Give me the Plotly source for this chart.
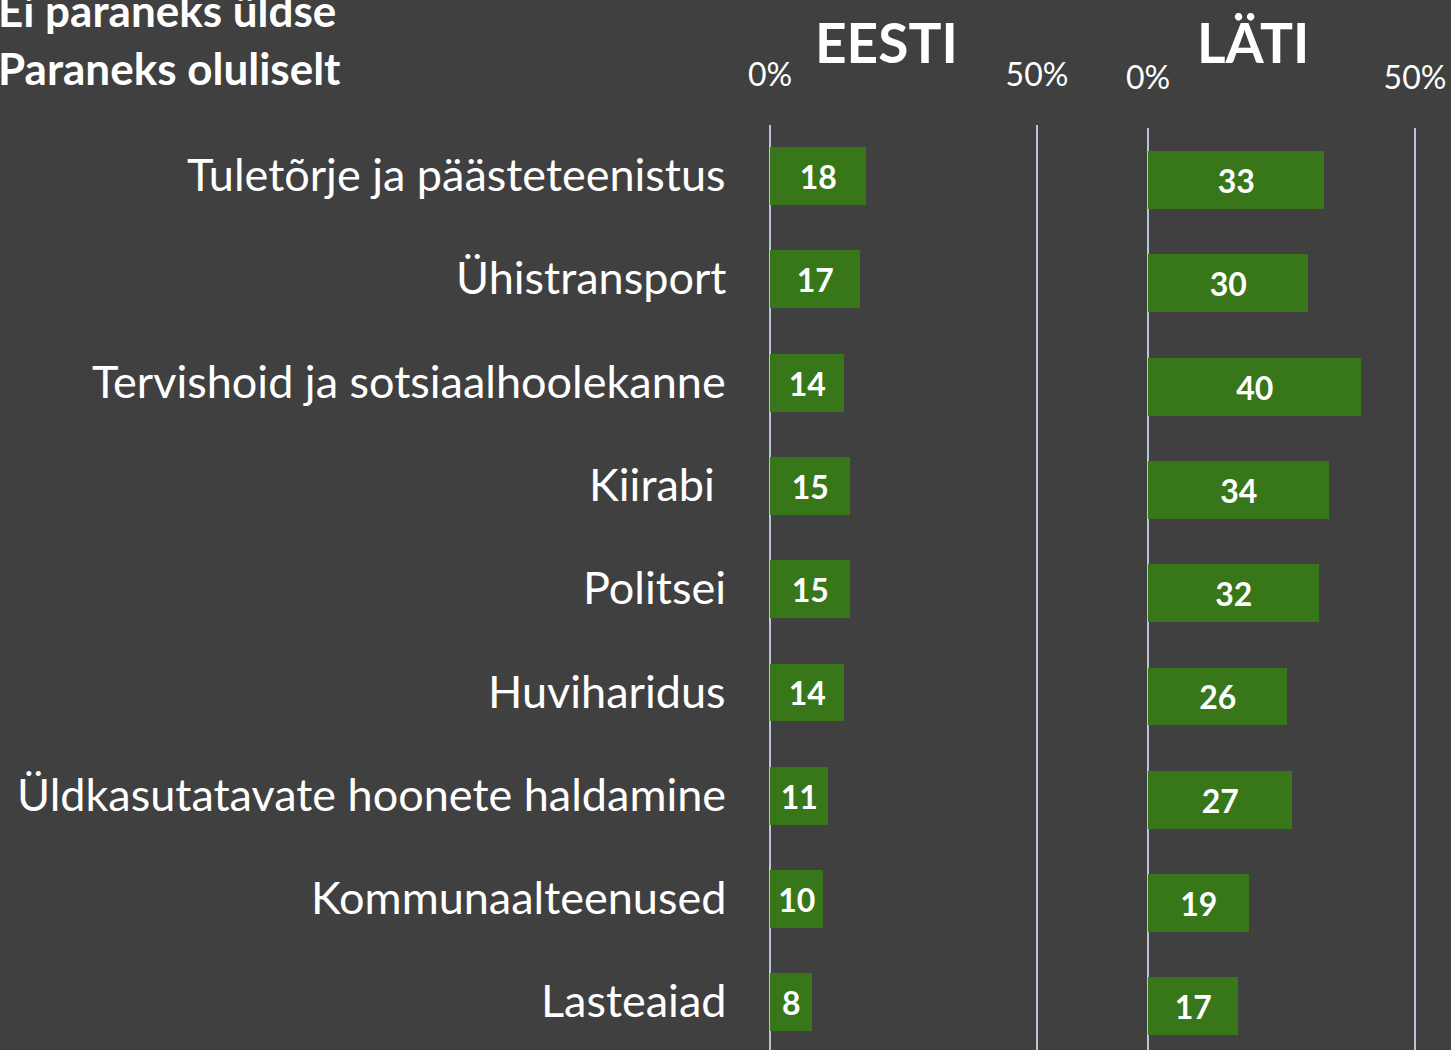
import plotly.graph_objects as go

W, H = 1451, 1050

categories = [
    "Tuletõrje ja päästeteenistus",
    "Ühistransport",
    "Tervishoid ja sotsiaalhoolekanne",
    "Kiirabi\u00a0",
    "Politsei",
    "Huviharidus",
    "Üldkasutatavate hoonete haldamine",
    "Kommunaalteenused",
    "Lasteaiad",
]
eesti_values = [18, 17, 14, 15, 15, 14, 11, 10, 8]
lati_values = [33, 30, 40, 34, 32, 26, 27, 19, 17]
panel_titles = ["EESTI", "LÄTI"]
legend_lines = ["Ei paraneks üldse", "Paraneks oluliselt"]
tick_vals = [0, 50]
tick_text = ["0%", "50%"]

BG = "#404040"
BAR = "#38761a"
GRID = "#b9c4d6"
FONT = "Lato"

def px_x(p):
    return p / W

def px_y(p):
    return 1 - p / H

fig = go.Figure()
for vals, xa, ya in [(eesti_values, "x", "y"), (lati_values, "x2", "y2")]:
    fig.add_trace(go.Bar(
        x=vals, y=categories, orientation="h", xaxis=xa, yaxis=ya,
        marker=dict(color=BAR, line=dict(width=0)), width=0.56,
        text=[str(v) for v in vals], textposition="inside",
        insidetextanchor="middle", constraintext="none",
        textfont=dict(family=FONT, size=32, color="white", weight="bold"),
        showlegend=False, hoverinfo="skip",
    ))

spacing = 103.3
e_top, e_c0 = 125, 176
l_top, l_c0 = 128, 180
pad = 0.5
ppu = 267 / 50.0  # pixels per percent

xcommon = dict(range=[-pad, 50 + pad], tickvals=tick_vals, ticktext=tick_text, side="top",
               showgrid=True, gridcolor=GRID, gridwidth=2, zeroline=False,
               showline=False, ticks="", ticklabelstandoff=32,
               tickfont=dict(family=FONT, size=32, color="white"), fixedrange=True)

fig.update_layout(
    width=W, height=H,
    margin=dict(l=0, r=0, t=0, b=0, autoexpand=False),
    paper_bgcolor=BG, plot_bgcolor=BG,
    bargap=0,
    xaxis=dict(domain=[px_x(770 - pad * ppu), px_x(1037 + pad * ppu)], anchor="y", **xcommon),
    xaxis2=dict(domain=[px_x(1148 - pad * ppu), px_x(1415 + pad * ppu)], anchor="y2", **xcommon),
    yaxis=dict(domain=[0, px_y(e_top)], anchor="x", type="category",
               categoryorder="array", categoryarray=categories,
               range=[(H - e_c0) / spacing, -(e_c0 - e_top) / spacing],
               showticklabels=False, showgrid=False, zeroline=False, showline=False),
    yaxis2=dict(domain=[0, px_y(l_top)], anchor="x2", type="category",
                categoryorder="array", categoryarray=categories,
                range=[(H - l_c0) / spacing, -(l_c0 - l_top) / spacing],
                showticklabels=False, showgrid=False, zeroline=False, showline=False),
)

annotations = []
for c in categories:
    annotations.append(dict(
        text=c, xref="paper", yref="y", x=px_x(728), y=c, xanchor="right",
        yanchor="middle", yshift=2, showarrow=False,
        font=dict(family=FONT, size=45, color="white"),
    ))
for t, xc in zip(panel_titles, [886, 1253]):
    annotations.append(dict(
        text=t, xref="paper", yref="paper", x=px_x(xc), y=px_y(42),
        xanchor="center", yanchor="middle", showarrow=False,
        font=dict(family=FONT, size=55, color="white", weight="bold"),
    ))
for t, yc in zip(legend_lines, [10, 68]):
    annotations.append(dict(
        text=t, xref="paper", yref="paper", x=px_x(-4), y=px_y(yc),
        xanchor="left", yanchor="middle", showarrow=False,
        font=dict(family=FONT, size=44, color="white", weight="bold"),
    ))
fig.update_layout(annotations=annotations)

fig.write_html("out.html", config={"displayModeBar": False},
               post_script="document.body.style.margin='0';document.body.style.overflow='hidden';")
